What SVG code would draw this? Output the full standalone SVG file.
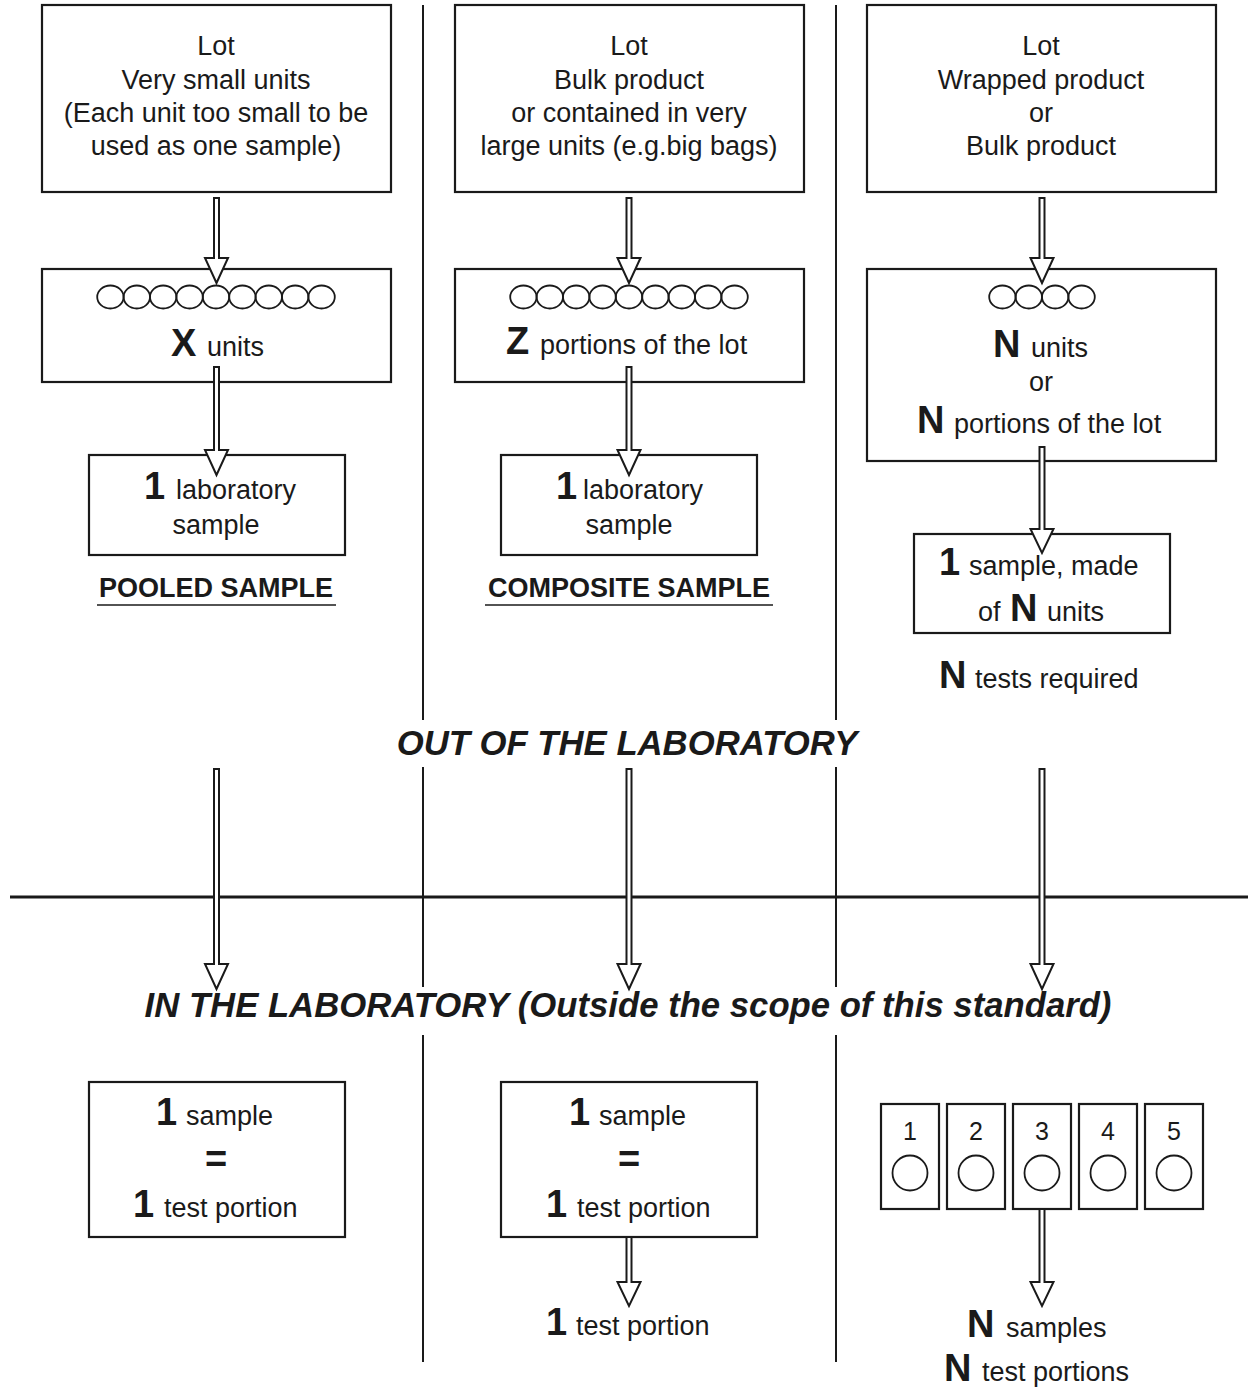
<svg xmlns="http://www.w3.org/2000/svg" width="1254" height="1387" viewBox="0 0 1254 1387">
<style>
text{font-family:"Liberation Sans",Arial,sans-serif;fill:#1a1a1a}
.t{font-size:27px}
.c{text-anchor:middle}
.b{font-weight:bold;font-size:38px}
.h{font-weight:bold;font-style:italic;font-size:34.7px;text-anchor:middle}
.u{font-weight:bold;font-size:27px;text-anchor:middle}
.box{fill:none;stroke:#1a1a1a;stroke-width:2.2}
.div{stroke:#1a1a1a;stroke-width:2}
.arr{fill:#fff;stroke:#1a1a1a;stroke-width:2;stroke-linejoin:miter}
.o{fill:none;stroke:#1a1a1a;stroke-width:1.8}
</style>
<defs>
<g id="row9">
<ellipse class="o" cx="-105.6" cy="0" rx="13.2" ry="11.5"/><ellipse class="o" cx="-79.2" cy="0" rx="13.2" ry="11.5"/><ellipse class="o" cx="-52.8" cy="0" rx="13.2" ry="11.5"/><ellipse class="o" cx="-26.4" cy="0" rx="13.2" ry="11.5"/><ellipse class="o" cx="0" cy="0" rx="13.2" ry="11.5"/><ellipse class="o" cx="26.4" cy="0" rx="13.2" ry="11.5"/><ellipse class="o" cx="52.8" cy="0" rx="13.2" ry="11.5"/><ellipse class="o" cx="79.2" cy="0" rx="13.2" ry="11.5"/><ellipse class="o" cx="105.6" cy="0" rx="13.2" ry="11.5"/>
</g>
</defs>
<g id="dividers">
<line class="div" x1="423" y1="5" x2="423" y2="720"/>
<line class="div" x1="423" y1="767" x2="423" y2="987"/>
<line class="div" x1="423" y1="1035" x2="423" y2="1362"/>
<line class="div" x1="836" y1="5" x2="836" y2="720"/>
<line class="div" x1="836" y1="767" x2="836" y2="987"/>
<line class="div" x1="836" y1="1035" x2="836" y2="1362"/>
<line x1="10" y1="897" x2="1248" y2="897" stroke="#1a1a1a" stroke-width="3"/>
</g>
<g id="lot1">
<rect class="box" x="42" y="5" width="349" height="187"/>
<text class="t c" x="216" y="55">Lot</text>
<text class="t c" x="216" y="89">Very small units</text>
<text class="t c" x="216" y="122">(Each unit too small to be</text>
<text class="t c" x="216" y="155">used as one sample)</text>
</g>
<g id="lot2">
<rect class="box" x="455" y="5" width="349" height="187"/>
<text class="t c" x="629" y="55">Lot</text>
<text class="t c" x="629" y="89">Bulk product</text>
<text class="t c" x="629" y="122">or contained in very</text>
<text class="t c" x="629" y="155">large units (e.g.big bags)</text>
</g>
<g id="lot3">
<rect class="box" x="867" y="5" width="349" height="187"/>
<text class="t c" x="1041" y="55">Lot</text>
<text class="t c" x="1041" y="89">Wrapped product</text>
<text class="t c" x="1041" y="122">or</text>
<text class="t c" x="1041" y="155">Bulk product</text>
</g>
<g id="units1">
<rect class="box" x="42" y="269" width="349" height="113"/>
<use href="#row9" x="216" y="297"/>
<text y="356"><tspan class="b" x="171">X</tspan><tspan class="t" x="207">units</tspan></text>
</g>
<g id="units2">
<rect class="box" x="455" y="269" width="349" height="113"/>
<use href="#row9" x="629" y="297"/>
<text y="354"><tspan class="b" x="506">Z</tspan><tspan class="t" x="540">portions of the lot</tspan></text>
</g>
<g id="units3">
<rect class="box" x="867" y="269" width="349" height="192"/>
<ellipse class="o" cx="1002.4" cy="297" rx="13.2" ry="11.5"/>
<ellipse class="o" cx="1028.8" cy="297" rx="13.2" ry="11.5"/>
<ellipse class="o" cx="1055.2" cy="297" rx="13.2" ry="11.5"/>
<ellipse class="o" cx="1081.6" cy="297" rx="13.2" ry="11.5"/>
<text y="357"><tspan class="b" x="993">N</tspan><tspan class="t" x="1031">units</tspan></text>
<text class="t c" x="1041" y="391">or</text>
<text y="433"><tspan class="b" x="917">N</tspan><tspan class="t" x="954">portions of the lot</tspan></text>
</g>
<g id="lab1">
<rect class="box" x="89" y="455" width="256" height="100"/>
<text y="499"><tspan class="b" x="144">1</tspan><tspan class="t" x="176">laboratory</tspan></text>
<text class="t c" x="216" y="534">sample</text>
</g>
<g id="lab2">
<rect class="box" x="501" y="455" width="256" height="100"/>
<text y="499"><tspan class="b" x="556">1</tspan><tspan class="t" x="583">laboratory</tspan></text>
<text class="t c" x="629" y="534">sample</text>
</g>
<g id="lab3">
<rect class="box" x="914" y="534" width="256" height="99"/>
<text y="575"><tspan class="b" x="939">1</tspan><tspan class="t" x="969">sample, made</tspan></text>
<text y="621"><tspan class="t" x="978">of</tspan><tspan class="b" x="1010">N</tspan><tspan class="t" x="1047">units</tspan></text>
</g>
<g id="pooled">
<text class="u" x="216" y="597">POOLED SAMPLE</text>
<line x1="97" y1="605" x2="336" y2="605" stroke="#1a1a1a" stroke-width="1.5"/>
</g>
<g id="composite">
<text class="u" x="629" y="597">COMPOSITE SAMPLE</text>
<line x1="485" y1="605" x2="773" y2="605" stroke="#1a1a1a" stroke-width="1.5"/>
</g>
<g id="tests">
<text y="688"><tspan class="b" x="939">N</tspan><tspan class="t" x="975">tests required</tspan></text>
</g>
<g id="out">
<text class="h" x="627" y="755">OUT OF THE LABORATORY</text>
</g>
<g id="in">
<text class="h" x="628" y="1017">IN THE LABORATORY (Outside the scope of this standard)</text>
</g>
<g id="bot1">
<rect class="box" x="89" y="1082" width="256" height="155"/>
<text y="1125"><tspan class="b" x="156">1</tspan><tspan class="t" x="186">sample</tspan></text>
<text class="b c" x="216" y="1172">=</text>
<text y="1217"><tspan class="b" x="133">1</tspan><tspan class="t" x="164">test portion</tspan></text>
</g>
<g id="bot2">
<rect class="box" x="501" y="1082" width="256" height="155"/>
<text y="1125"><tspan class="b" x="569">1</tspan><tspan class="t" x="599">sample</tspan></text>
<text class="b c" x="629" y="1172">=</text>
<text y="1217"><tspan class="b" x="546">1</tspan><tspan class="t" x="577">test portion</tspan></text>
</g>
<g id="portion2">
<text y="1335"><tspan class="b" x="546">1</tspan><tspan class="t" x="576">test portion</tspan></text>
</g>
<g id="samples3">
<rect class="box" x="881" y="1104" width="58" height="105"/>
<rect class="box" x="947" y="1104" width="58" height="105"/>
<rect class="box" x="1013" y="1104" width="58" height="105"/>
<rect class="box" x="1079" y="1104" width="58" height="105"/>
<rect class="box" x="1145" y="1104" width="58" height="105"/>
<text class="t c" x="910" y="1140" style="font-size:25px">1</text>
<text class="t c" x="976" y="1140" style="font-size:25px">2</text>
<text class="t c" x="1042" y="1140" style="font-size:25px">3</text>
<text class="t c" x="1108" y="1140" style="font-size:25px">4</text>
<text class="t c" x="1174" y="1140" style="font-size:25px">5</text>
<circle class="o" cx="910" cy="1173" r="17.5"/>
<circle class="o" cx="976" cy="1173" r="17.5"/>
<circle class="o" cx="1042" cy="1173" r="17.5"/>
<circle class="o" cx="1108" cy="1173" r="17.5"/>
<circle class="o" cx="1174" cy="1173" r="17.5"/>
</g>
<g id="result3">
<text y="1337"><tspan class="b" x="967">N</tspan><tspan class="t" x="1006">samples</tspan></text>
<text y="1381"><tspan class="b" x="944">N</tspan><tspan class="t" x="982">test portions</tspan></text>
</g>
<g id="connectors">
<polygon class="arr" points="214,198 219,198 219,258 228,258 216.5,283 205,258 214,258"/>
<polygon class="arr" points="626.5,198 631.5,198 631.5,258 640.5,258 629,283 617.5,258 626.5,258"/>
<polygon class="arr" points="1039.5,198 1044.5,198 1044.5,258 1053.5,258 1042,283 1030.5,258 1039.5,258"/>
<polygon class="arr" points="214,367 219,367 219,450 228,450 216.5,475 205,450 214,450"/>
<polygon class="arr" points="626.5,367 631.5,367 631.5,450 640.5,450 629,475 617.5,450 626.5,450"/>
<polygon class="arr" points="1039.5,447 1044.5,447 1044.5,529 1053.5,529 1042,553 1030.5,529 1039.5,529"/>
<polygon class="arr" points="214,769 219,769 219,964 228,964 216.5,989 205,964 214,964"/>
<polygon class="arr" points="626.5,769 631.5,769 631.5,964 640.5,964 629,989 617.5,964 626.5,964"/>
<polygon class="arr" points="1039.5,769 1044.5,769 1044.5,964 1053.5,964 1042,989 1030.5,964 1039.5,964"/>
<polygon class="arr" points="626.5,1237 631.5,1237 631.5,1282 640.5,1282 629,1306 617.5,1282 626.5,1282"/>
<polygon class="arr" points="1039.5,1209 1044.5,1209 1044.5,1282 1053.5,1282 1042,1306 1030.5,1282 1039.5,1282"/>
</g>
</svg>
